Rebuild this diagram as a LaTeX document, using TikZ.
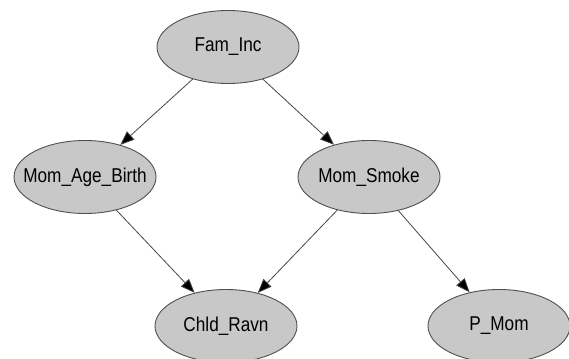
\documentclass[tikz,border=0pt]{standalone}
\usepackage{fontspec}
\setmainfont[FakeStretch=0.86]{Liberation Sans}
\usetikzlibrary{shapes.geometric,arrows.meta}

\definecolor{nodefill}{RGB}{200,200,200}
\definecolor{nodeline}{RGB}{80,80,80}
\definecolor{edgeline}{RGB}{70,70,70}

\newcommand{\varname}[1]{\makebox[0pt]{#1}}

\tikzset{
  var/.style={draw=nodeline,fill=nodefill,ellipse,line width=0.9pt,inner sep=0pt,
    minimum width=142pt,minimum height=73pt,font=\fontsize{20}{22}\selectfont},
  dep/.style={draw=edgeline,line width=0.8pt,
    -{Triangle[length=14pt,width=11pt,fill=black]}}
}

\begin{document}
\begin{tikzpicture}[x=1pt,y=-1pt]
\useasboundingbox[fill=white] (0,0) rectangle (569,358);
\node[var] (faminc) at (228,47) {\varname{Fam\_Inc}};
\node[var] (momage) at (85,177) {\varname{Mom\_Age\_Birth}};
\node[var] (momsmoke) at (369,177) {\varname{Mom\_Smoke}};
\node[var] (chldravn) at (226,326) {\varname{Chld\_Ravn}};
\node[var] (pmom) at (499,326) {\varname{P\_Mom}};
\draw[dep] (faminc) -- (momage);
\draw[dep] (faminc) -- (momsmoke);
\draw[dep] (momage) -- (chldravn);
\draw[dep] (momsmoke) -- (chldravn);
\draw[dep] (momsmoke) -- (pmom);
\end{tikzpicture}
\end{document}
